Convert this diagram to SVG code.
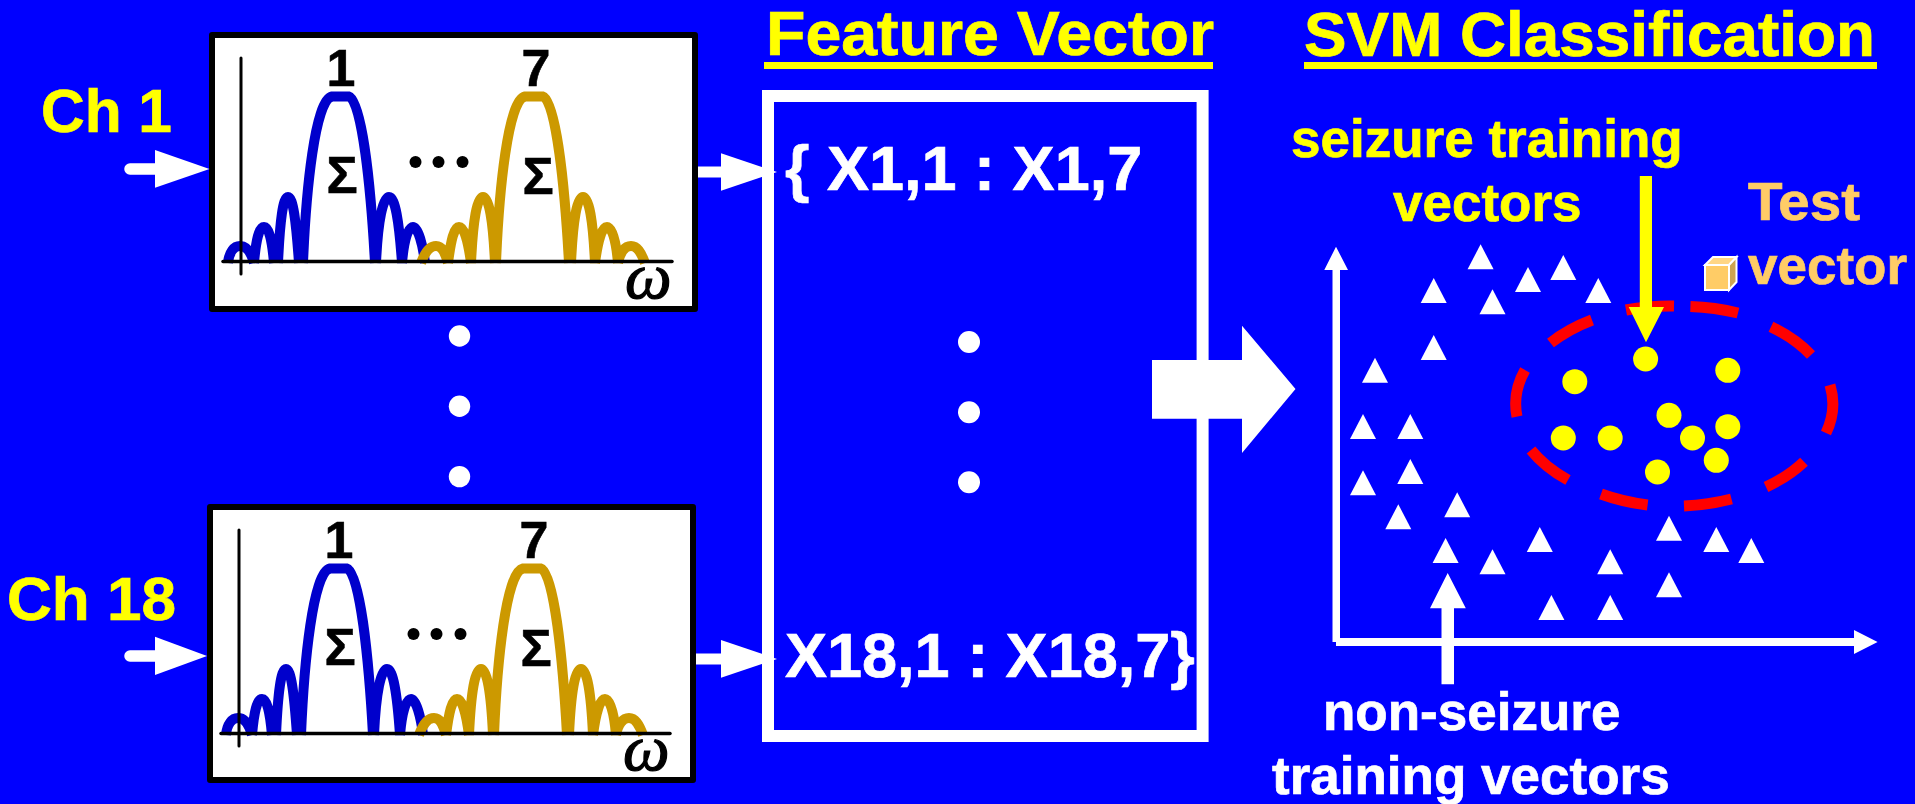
<svg xmlns="http://www.w3.org/2000/svg" width="1915" height="804" viewBox="0 0 1915 804">
<style>
text{font-family:"Liberation Sans",Arial,sans-serif;font-weight:bold}
.y{fill:#ffff00;stroke:#ffff00;stroke-width:.7}.w{fill:#fff;stroke:#fff;stroke-width:.7}.k{fill:#000;stroke:#000;stroke-width:.6}.o{fill:#ffcc66;stroke:#ffcc66;stroke-width:.7}
.t62{font-size:62px}.t63{font-size:63px}.t52{font-size:52px}.t53{font-size:53px}
.om{font-family:"Liberation Serif","Times New Roman",serif;font-style:italic;font-weight:normal;font-size:66px;stroke-width:1.2}
.frame{fill:#fff;stroke:#000;stroke-width:6;stroke-linejoin:round}
.ax{stroke:#000;stroke-linecap:round;fill:none}
.blue{fill:none;stroke:#0000cc;stroke-width:10}
.gold{fill:none;stroke:#cc9900;stroke-width:10}
.wa{fill:#fff}
.sh{stroke:#fff;stroke-width:11.5;stroke-linecap:round;fill:none}
</style>
<defs>
<path id="lobesB" d="M228 263C229 252 234 246 240 246C246 246 251 252 254 263M254 263C256 240 259 227 264 227C269 227 272 240 274 263M278 263C280 220 283 197 288 197C293 197 296 220 299 263M303 263C306 190 315 100 332 96.5L349 96.5C362 100 371 190 375 263M376 263C378 220 383 197 389 197C395 197 399 220 402 263M402 263C404 240 408 227 413 227C418 227 423 245 425 263"/>
<path id="lobesG" d="M421 263C425 252 430 246 436 246C442 246 445 252 448 263M448 263C451 240 454 227 459 227C464 227 468 240 471 263M471 263C473 220 477 197 483 197C489 197 493 220 495 263M496 263C499 190 508 100 525 96.5L543 96.5C556 100 565 190 569 263M571 263C573 220 577 197 583 197C589 197 593 220 595 263M595 263C598 240 602 227 607 227C612 227 616 240 618 263M618 263C620 252 625 246 631 246C637 246 641 252 645 263"/>
<polygon id="tri" points="0,-25 13,0 -13,0"/>
<circle id="dot" r="12.5"/>
</defs>
<rect width="1915" height="804" fill="#0000ff"/>

<g id="title-feature">
<text class="t63 y" x="766" y="55" textLength="448" lengthAdjust="spacingAndGlyphs">Feature Vector</text>
<rect x="764" y="62" width="449" height="7" fill="#ffff00"/>
</g>
<g id="title-svm">
<text class="t63 y" x="1304" y="55.5" textLength="571" lengthAdjust="spacingAndGlyphs">SVM Classification</text>
<rect x="1304" y="62" width="573" height="7" fill="#ffff00"/>
</g>

<g id="ch1-label"><text class="t62 y" x="41" y="132" textLength="131" lengthAdjust="spacingAndGlyphs">Ch 1</text></g>
<g id="ch18-label"><text class="t62 y" x="7" y="620" textLength="169" lengthAdjust="spacingAndGlyphs">Ch 18</text></g>

<g id="plot-ch1">
<rect class="frame" x="212" y="35" width="483" height="274"/>
<use href="#lobesB" class="blue"/>
<use href="#lobesG" class="gold"/>
<line class="ax" x1="241" y1="58" x2="241" y2="274" stroke-width="3"/>
<line class="ax" x1="223" y1="261.5" x2="672" y2="261.5" stroke-width="3.5"/>
<text class="t52 k" x="341" y="86" text-anchor="middle">1</text>
<text class="t52 k" x="536" y="86" text-anchor="middle">7</text>
<text class="t52 k" x="342" y="193" text-anchor="middle">Σ</text>
<text class="t52 k" x="538" y="194" text-anchor="middle">Σ</text>
<circle cx="415.5" cy="162" r="6"/><circle cx="438.5" cy="162" r="6"/><circle cx="462.5" cy="162" r="6"/>
<text class="om k" x="625" y="298">ω</text>
</g>

<g id="plot-ch18">
<rect class="frame" x="210" y="507" width="483" height="273"/>
<use href="#lobesB" class="blue" transform="translate(-2 472)"/>
<use href="#lobesG" class="gold" transform="translate(-2 472)"/>
<line class="ax" x1="239" y1="530" x2="239" y2="746" stroke-width="3"/>
<line class="ax" x1="221" y1="733.5" x2="670" y2="733.5" stroke-width="3.5"/>
<text class="t52 k" x="339" y="558" text-anchor="middle">1</text>
<text class="t52 k" x="534" y="558" text-anchor="middle">7</text>
<text class="t52 k" x="340" y="665" text-anchor="middle">Σ</text>
<text class="t52 k" x="536" y="666" text-anchor="middle">Σ</text>
<circle cx="413.5" cy="634" r="6"/><circle cx="436.5" cy="634" r="6"/><circle cx="460.5" cy="634" r="6"/>
<text class="om k" x="623" y="770">ω</text>
</g>

<g id="plot-dots" class="wa">
<circle cx="459.5" cy="336" r="10.7"/><circle cx="459.5" cy="406.3" r="10.7"/><circle cx="459.5" cy="476.6" r="10.7"/>
</g>

<g id="feature-box">
<rect x="768" y="96" width="434.6" height="640" fill="none" stroke="#fff" stroke-width="12"/>
<text class="t63 w" x="785" y="190">{ X1,1 : X1,7</text>
<text class="t63 w" x="785" y="677">X18,1 : X18,7}</text>
<ellipse class="wa" cx="969" cy="342" rx="11" ry="11"/>
<ellipse class="wa" cx="969" cy="412.3" rx="11" ry="11"/>
<ellipse class="wa" cx="969" cy="482.3" rx="11" ry="11"/>
</g>

<g id="svm-plot">
<polygon class="wa" points="1332.5,642 1332.5,270 1324.3,270 1336,246.7 1348,270 1340,270 1340,638 1854,638 1854,630 1877.6,642 1854,654 1854,646 1336,646 1336,642"/>
<path fill="none" stroke="#ff0000" stroke-width="11" d="M1626 310A157 100 0 0 1 1674 306M1690.4 306.5A157 100 0 0 1 1738 313M1771 326.7A157 100 0 0 1 1811 355M1830 385A157 100 0 0 1 1826 433M1804 461.7A157 100 0 0 1 1766 487M1731.5 499A157 100 0 0 1 1684 506M1647.6 505A157 100 0 0 1 1601 494M1568 480A157 100 0 0 1 1531 450M1517 416.7A157 100 0 0 1 1525 370M1550.5 343A157 100 0 0 1 1592 320"/>
<g class="wa">
<use href="#tri" x="1480.6" y="269.3"/><use href="#tri" x="1563.3" y="280"/><use href="#tri" x="1528" y="292"/><use href="#tri" x="1433.7" y="303"/><use href="#tri" x="1492.5" y="314.3"/><use href="#tri" x="1598.3" y="303"/><use href="#tri" x="1433.7" y="360"/><use href="#tri" x="1375" y="382.7"/><use href="#tri" x="1363" y="439"/><use href="#tri" x="1410.3" y="439"/><use href="#tri" x="1363" y="495.3"/><use href="#tri" x="1410.3" y="484"/><use href="#tri" x="1398.3" y="529.3"/><use href="#tri" x="1457.2" y="517.3"/><use href="#tri" x="1445.6" y="563"/><use href="#tri" x="1492.5" y="574.3"/><use href="#tri" x="1539.8" y="552"/><use href="#tri" x="1610.2" y="574.3"/><use href="#tri" x="1551.4" y="620"/><use href="#tri" x="1610.2" y="620"/><use href="#tri" x="1669" y="540.7"/><use href="#tri" x="1716.3" y="552"/><use href="#tri" x="1751.3" y="563"/><use href="#tri" x="1669" y="597.3"/>
</g>
<g fill="#ffff00">
<use href="#dot" x="1645.6" y="359"/><use href="#dot" x="1727.8" y="370.3"/><use href="#dot" x="1574.8" y="381.7"/><use href="#dot" x="1669" y="415.3"/><use href="#dot" x="1727.8" y="426.7"/><use href="#dot" x="1563.3" y="438"/><use href="#dot" x="1610.2" y="438"/><use href="#dot" x="1692.5" y="438"/><use href="#dot" x="1716.3" y="460.3"/><use href="#dot" x="1657.5" y="472"/>
</g>
</g>

<g id="connectors">
<path class="sh" d="M130 169H160M130 656H160"/>
<polygon class="wa" points="155,150 209.5,169 155,187.7"/>
<polygon class="wa" points="155,636.7 207,656 155,675"/>
<rect class="wa" x="698" y="166.5" width="30" height="11"/>
<polygon class="wa" points="721,153.3 777,172 721,190.7"/>
<rect class="wa" x="696" y="653.5" width="30" height="11"/>
<polygon class="wa" points="721,640 777,659 721,677.7"/>
<polygon class="wa" points="1152,360 1242,360 1242,325.7 1295.5,389 1242,453 1242,418.7 1152,418.7"/>
<polygon fill="#ffff00" points="1639.8,176 1652,176 1652,307 1664,307 1646,342.3 1628.7,307 1639.8,307"/>
<polygon class="wa" points="1441.5,684.3 1454,684.3 1454,608.3 1465.8,608.3 1447.7,573 1430,608.3 1441.5,608.3"/>
</g>

<g id="test-cube">
<polygon fill="#ffcc66" stroke="#fff" stroke-width="2" points="1705,265 1729,265 1729,290 1705,290"/>
<polygon fill="#ffd685" stroke="#fff" stroke-width="2" points="1705,265 1713,257 1736.5,257 1729,265"/>
<polygon fill="#cca352" stroke="#fff" stroke-width="2" points="1729,265 1736.5,257 1736.5,282 1729,290"/>
</g>

<g id="label-seizure">
<text class="t53 y" x="1291" y="157">seizure training</text>
<text class="t53 y" x="1393" y="221">vectors</text>
</g>
<g id="label-test">
<text class="t53 o" x="1748" y="220" textLength="112" lengthAdjust="spacingAndGlyphs">Test</text>
<text class="t53 o" x="1748" y="284">vector</text>
</g>
<g id="label-nonseizure">
<text class="t53 w" x="1323" y="730">non-seizure</text>
<text class="t53 w" x="1272" y="794">training vectors</text>
</g>
</svg>
